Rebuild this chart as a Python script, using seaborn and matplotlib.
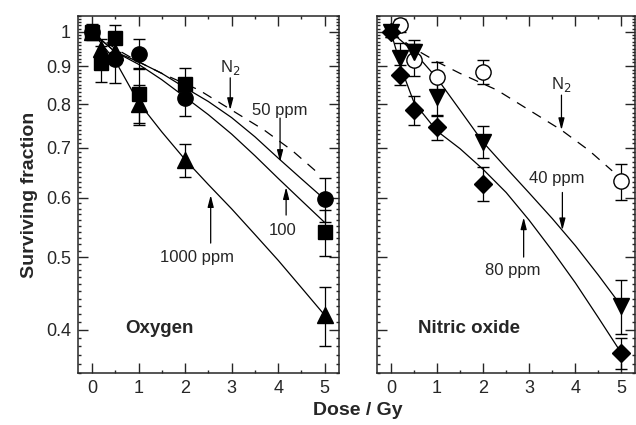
import matplotlib
matplotlib.use("Agg")
import matplotlib.pyplot as plt
import matplotlib.ticker as mticker
import seaborn as sns
import pandas as pd
import numpy as np

# ---- values ----
# Oxygen panel, measured points
ox_circle_x = [0, 0.5, 1, 2, 5]
ox_circle_y = [1.0, 0.92, 0.935, 0.815, 0.597]
ox_circle_err = [0.02, 0.065, 0.043, 0.042, 0.04]

ox_square_x = [0, 0.2, 0.5, 1, 2, 5]
ox_square_y = [1.0, 0.908, 0.981, 0.825, 0.852, 0.54]
ox_square_err = [0.02, 0.05, 0.04, 0.07, 0.042, 0.038]

ox_tri_x = [0, 0.2, 0.5, 1, 2, 5]
ox_tri_y = [1.0, 0.948, 0.94, 0.80, 0.674, 0.418]
ox_tri_err = [0.025, 0.03, 0.03, 0.05, 0.035, 0.038]

# Oxygen panel, fitted curves
ox_fit_x = [0, 0.5, 1, 1.5, 2, 2.5, 3, 3.5, 4, 4.5, 5]
fit_50ppm = [1.0, 0.94, 0.912, 0.88, 0.842, 0.807, 0.768, 0.724, 0.678, 0.636, 0.597]
fit_100ppm = [1.0, 0.94, 0.905, 0.863, 0.818, 0.775, 0.73, 0.683, 0.637, 0.595, 0.556]
fit_1000ppm = [1.0, 0.915, 0.805, 0.735, 0.675, 0.625, 0.58, 0.536, 0.495, 0.455, 0.418]

# N2 curve (both panels)
n2_fit_x = [0, 0.5, 1, 1.5, 2.3, 3, 3.7, 4.3, 4.8]
n2_fit_y = [1.0, 0.95, 0.912, 0.88, 0.836, 0.786, 0.739, 0.694, 0.652]

# Nitric oxide panel, measured points
no_circle_x = [0.2, 0.5, 1, 2, 5]
no_circle_y = [1.02, 0.917, 0.87, 0.885, 0.631]
no_circle_err = [0.02, 0.045, 0.04, 0.032, 0.035]

no_tri_x = [0, 0.2, 0.5, 1, 2, 5]
no_tri_y = [1.0, 0.922, 0.941, 0.819, 0.713, 0.43]
no_tri_err = [0.015, 0.045, 0.035, 0.045, 0.035, 0.036]

no_dia_x = [0, 0.2, 0.5, 1, 2, 5]
no_dia_y = [1.0, 0.876, 0.786, 0.745, 0.627, 0.372]
no_dia_err = [0.015, 0.027, 0.036, 0.028, 0.033, 0.018]

# Nitric oxide panel, fitted curves
no_fit_x = [0, 0.25, 0.5, 1, 1.5, 2, 2.5, 3, 3.5, 4, 4.5, 5]
fit_40ppm = [1.0, 0.97, 0.94, 0.867, 0.786, 0.712, 0.658, 0.609, 0.563, 0.518, 0.473, 0.43]
fit_80ppm = [1.0, 0.885, 0.805, 0.737, 0.698, 0.655, 0.61, 0.56, 0.51, 0.462, 0.415, 0.372]

ytick_vals = [0.4, 0.5, 0.6, 0.7, 0.8, 0.9, 1.0]
ytick_labels = ['0.4', '0.5', '0.6', '0.7', '0.8', '0.9', '1']

sns.set_style("ticks")
plt.rcParams['font.family'] = ['Liberation Sans', 'DejaVu Sans']
plt.rcParams['axes.linewidth'] = 1.1

fig = plt.figure(figsize=(6.36, 4.25), dpi=100)
ax1 = fig.add_axes([0.1226, 0.1224, 0.410, 0.840])
ax2 = fig.add_axes([0.5928, 0.1224, 0.406, 0.840])


def fit_line(ax, x, y, dashed=False):
    df = pd.DataFrame({'x': x, 'y': y})
    sns.lineplot(data=df, x='x', y='y', ax=ax, color='black', lw=0.9,
                 linestyle=(0, (8, 6.5)) if dashed else '-', zorder=1,
                 estimator=None, sort=False)


def points(ax, x, y, err, marker, ms, open_=False):
    ax.errorbar(x, y, yerr=err, fmt=marker, ms=ms, color='black',
                mfc='white' if open_ else 'black', mec='black', mew=1.0,
                ecolor='black', elinewidth=0.9, capsize=4, capthick=0.9,
                zorder=3)


def arrow(ax, start, tip):
    ax.annotate('', xy=tip, xytext=start,
                arrowprops=dict(arrowstyle='-|>,head_length=0.7,head_width=0.18',
                                color='black', lw=0.9, shrinkA=0, shrinkB=0))


# Oxygen
fit_line(ax1, n2_fit_x, n2_fit_y, dashed=True)
fit_line(ax1, ox_fit_x, fit_50ppm)
fit_line(ax1, ox_fit_x, fit_100ppm)
fit_line(ax1, ox_fit_x, fit_1000ppm)
points(ax1, ox_tri_x, ox_tri_y, ox_tri_err, '^', 11)
points(ax1, ox_square_x, ox_square_y, ox_square_err, 's', 10)
points(ax1, ox_circle_x, ox_circle_y, ox_circle_err, 'o', 11)

ax1.text(2.97, 0.897, 'N$_2$', ha='center', va='center', fontsize=12)
arrow(ax1, (2.97, 0.868), (2.97, 0.786))
ax1.text(4.04, 0.786, '50 ppm', ha='center', va='center', fontsize=12)
arrow(ax1, (4.04, 0.767), (4.04, 0.67))
ax1.text(4.1, 0.543, '100', ha='center', va='center', fontsize=12)
arrow(ax1, (4.17, 0.569), (4.17, 0.62))
ax1.text(2.25, 0.5, '1000 ppm', ha='center', va='center', fontsize=12)
arrow(ax1, (2.55, 0.522), (2.55, 0.605))
ax1.text(0.71, 0.401, 'Oxygen', ha='left', va='center', fontsize=13.5,
         fontweight='bold')

# Nitric oxide
fit_line(ax2, n2_fit_x, n2_fit_y, dashed=True)
fit_line(ax2, no_fit_x, fit_40ppm)
fit_line(ax2, no_fit_x, fit_80ppm)
points(ax2, no_circle_x, no_circle_y, no_circle_err, 'o', 11, open_=True)
points(ax2, no_tri_x, no_tri_y, no_tri_err, 'v', 11)
points(ax2, no_dia_x, no_dia_y, no_dia_err, 'D', 9)

ax2.text(3.7, 0.851, 'N$_2$', ha='center', va='center', fontsize=12)
arrow(ax2, (3.7, 0.823), (3.7, 0.739))
ax2.text(3.6, 0.637, '40 ppm', ha='center', va='center', fontsize=12)
arrow(ax2, (3.72, 0.61), (3.72, 0.543))
ax2.text(2.65, 0.48, '80 ppm', ha='center', va='center', fontsize=12)
arrow(ax2, (2.88, 0.5), (2.88, 0.565))
ax2.text(0.58, 0.401, 'Nitric oxide', ha='left', va='center', fontsize=13.5,
         fontweight='bold')

for ax in (ax1, ax2):
    ax.set_yscale('log')
    ax.set_ylim(0.35, 1.05)
    ax.set_xlim(-0.3, 5.3)
    ax.yaxis.set_major_locator(mticker.FixedLocator(ytick_vals))
    ax.yaxis.set_minor_locator(mticker.FixedLocator(np.arange(0.35, 1.051, 0.01)))
    ax.yaxis.set_minor_formatter(mticker.NullFormatter())
    ax.xaxis.set_major_locator(mticker.MultipleLocator(1))
    ax.xaxis.set_minor_locator(mticker.MultipleLocator(0.5))
    ax.tick_params(which='both', direction='in', top=True, right=True,
                   width=1.0, labelsize=13, pad=5)
    ax.tick_params(which='major', length=7)
    ax.tick_params(which='minor', length=2.5)
    ax.set_xlabel('')
    ax.set_ylabel('')
    for sp in ax.spines.values():
        sp.set_visible(True)

ax1.yaxis.set_major_formatter(mticker.FixedFormatter(ytick_labels))
ax2.yaxis.set_major_formatter(mticker.NullFormatter())
ax1.set_ylabel('Surviving fraction', fontsize=14, fontweight='bold', labelpad=6)
fig.text(0.562, 0.035, 'Dose / Gy', ha='center', va='center', fontsize=14,
         fontweight='bold')

fig.savefig('out.png', dpi=100)
